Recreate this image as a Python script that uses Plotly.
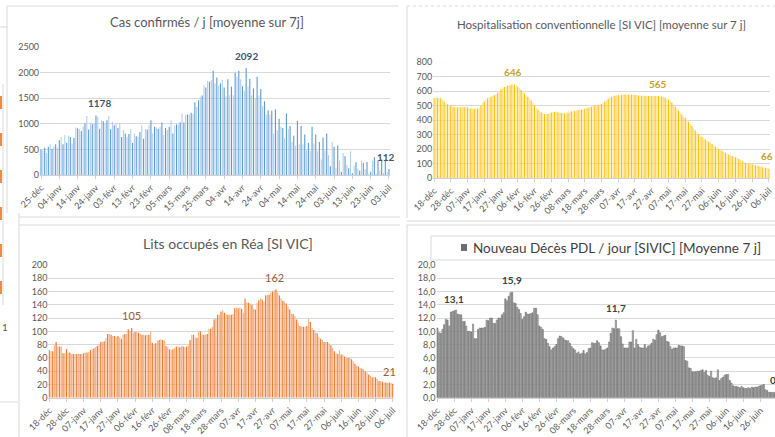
import plotly.graph_objects as go

W, H = 775, 437

# ---------------- DATA ----------------
cas_ticks = ["25-déc", "04-janv", "14-janv", "24-janv", "03-févr", "13-févr", "23-févr", "05-mars",
             "15-mars", "25-mars", "04-avr", "14-avr", "24-avr", "04-mai", "14-mai", "24-mai",
             "03-juin", "13-juin", "23-juin", "03-juil"]
cas_values = [
    500, 480, 530, 430, 550, 600, 515, 560, 600, 530,
    680, 740, 600, 780, 630, 770, 740, 615, 725, 930,
    915, 895, 860, 940, 1005, 1150, 890, 1025, 990, 1005,
    1160, 1135, 905, 1070, 1050, 1005, 1070, 1150, 895, 1040,
    970, 1005, 920, 1010, 740, 880, 810, 745, 800, 895,
    625, 810, 755, 745, 840, 965, 710, 900, 890, 970,
    1070, 810, 940, 930, 905, 940, 1025, 780, 920, 880,
    940, 1070, 810, 970, 990, 985, 1030, 1200, 1025, 1170,
    1180, 1180, 1215, 1200, 1420, 1330, 1460, 1530, 1555, 1755,
    1710, 1840, 1820, 1855, 2035, 1790, 1905, 1745, 1790, 1855,
    1710, 1540, 1870, 1560, 1725, 1560, 1995, 1920, 2035, 1870,
    1735, 1645, 2092, 1725, 1875, 1555, 1690, 1495, 1920, 1555,
    1680, 1345, 1440, 1175, 1265, 1175, 1255, 810, 1280, 875,
    1100, 940, 920, 720, 1200, 905, 955, 650, 765, 570,
    1060, 600, 955, 600, 790, 485, 625, 470, 940, 615,
    790, 470, 645, 305, 730, 475, 810, 385, 170, 645,
    550, 135, 575, 285, 60, 430, 365, 195, 130, 465,
    35, 175, 255, 125, 85, 280, 240, 115, 255, 25,
    65, 275, 350, 25, 285, 90, 310, 40, 300, 60,
    112]
cas_label_idx = [32, 112, 190]
cas_label_val = [1178, 2092, 112]
cas_label_txt = ["1178", "2092", "112"]

dec_ticks = ["18-déc", "28-déc", "07-janv", "17-janv", "27-janv", "06-févr", "16-févr", "26-févr",
             "08-mars", "18-mars", "28-mars", "07-avr", "17-avr", "27-avr", "07-mai", "17-mai",
             "27-mai", "06-juin", "16-juin", "26-juin", "06-juil"]

hosp_values = [
    552, 551, 552, 551, 550, 540, 528, 516, 508, 503,
    498, 493, 489, 488, 488, 489, 488, 488, 489, 488,
    486, 482, 479, 478, 477, 478, 480, 487, 500, 515,
    528, 540, 550, 556, 560, 566, 572, 580, 590, 600,
    612, 622, 628, 632, 636, 640, 643, 646, 644, 640,
    630, 620, 608, 596, 584, 571, 560, 550, 535, 519,
    502, 485, 472, 462, 453, 446, 442, 440, 442, 445,
    452, 455, 457, 457, 453, 450, 448, 446, 444, 445,
    450, 455, 458, 462, 464, 466, 468, 470, 472, 474,
    478, 482, 486, 489, 492, 496, 498, 500, 503, 506,
    510, 518, 528, 538, 546, 553, 560, 565, 568, 570,
    571, 572, 573, 575, 576, 576, 576, 575, 574, 573,
    572, 570, 569, 568, 568, 567, 567, 566, 566, 565,
    565, 565, 566, 566, 565, 564, 562, 560, 556, 550,
    542, 532, 520, 507, 493, 480, 466, 452, 438, 425,
    415, 402, 388, 372, 358, 342, 328, 315, 302, 292,
    282, 274, 266, 258, 250, 243, 235, 226, 218, 210,
    202, 194, 188, 181, 175, 168, 162, 157, 152, 148,
    143, 138, 131, 124, 117, 111, 106, 103, 100, 97,
    94, 91, 88, 85, 82, 79, 76, 73, 70, 68,
    66]
hosp_label_idx = [47, 134, 200]
hosp_label_val = [646, 565, 66]
hosp_label_txt = ["646", "565", "66"]

rea_values = [
    72, 70, 70, 79, 84, 77, 77, 77, 67, 67,
    73, 68, 68, 66, 66, 66, 66, 66, 66, 66,
    67, 68, 68, 69, 72, 73, 74, 76, 78, 80,
    84, 84, 85, 90, 96, 96, 95, 93, 93, 92,
    93, 91, 89, 95, 96, 96, 103, 100, 105, 98,
    99, 99, 98, 96, 95, 95, 94, 95, 95, 100,
    83, 80, 82, 86, 87, 88, 87, 86, 78, 76,
    73, 72, 73, 75, 77, 77, 76, 78, 77, 76,
    77, 79, 87, 95, 95, 91, 90, 99, 100, 95,
    95, 95, 96, 104, 104, 107, 118, 119, 125, 125,
    130, 132, 128, 126, 125, 125, 125, 126, 135, 136,
    135, 136, 134, 128, 149, 143, 143, 142, 140, 134,
    133, 143, 147, 150, 148, 145, 154, 155, 155, 158,
    160, 162, 163, 158, 154, 150, 146, 145, 142, 138,
    133, 127, 126, 123, 118, 113, 108, 107, 107, 107,
    108, 119, 114, 105, 102, 98, 97, 92, 89, 87,
    84, 84, 84, 82, 79, 75, 70, 67, 66, 71,
    65, 65, 62, 60, 60, 60, 58, 55, 51, 48,
    47, 45, 44, 43, 40, 38, 35, 33, 31, 31,
    31, 28, 25, 25, 24, 23, 23, 22, 23, 22,
    21]
rea_label_idx = [48, 131, 200]
rea_label_val = [105, 162, 21]
rea_label_txt = ["105", "162", "21"]

deces_values = [
    10.5, 9.8, 9.7, 10.3, 11.0, 11.8, 11.7, 10.8, 12.9, 13.0,
    13.1, 13.2, 12.6, 12.5, 12.5, 11.5, 11.5, 10.8, 10.0, 10.0,
    9.9, 11.1, 8.9, 8.9, 10.3, 10.5, 10.5, 10.5, 10.6, 11.7,
    11.6, 12.0, 12.0, 11.2, 11.2, 11.7, 12.0, 12.0, 12.5, 12.8,
    14.9, 14.6, 15.3, 15.8, 15.9, 14.3, 14.2, 13.6, 13.3, 12.7,
    11.8, 12.2, 12.9, 12.6, 12.6, 12.7, 12.8, 13.5, 13.5, 12.5,
    10.8, 10.6, 10.3, 8.9, 8.8, 8.2, 7.7, 7.2, 7.5, 7.7,
    8.0, 8.9, 9.3, 9.2, 9.0, 8.7, 8.6, 8.6, 8.2, 7.7,
    7.4, 7.2, 6.7, 6.9, 6.6, 6.7, 7.1, 6.6, 6.8, 7.4,
    7.5, 8.3, 8.2, 8.2, 8.6, 8.3, 7.8, 7.2, 7.2, 7.3,
    7.5, 8.4, 9.7, 10.5, 10.4, 11.7, 10.4, 10.4, 9.2, 8.1,
    7.5, 7.5, 7.5, 8.4, 8.4, 10.1, 7.5, 8.8, 8.0, 7.6,
    7.5, 7.5, 8.0, 7.5, 7.8, 7.9, 8.2, 8.8, 8.7, 9.5,
    10.2, 9.8, 9.2, 9.3, 9.4, 8.5, 8.4, 7.7, 7.3, 7.5,
    7.5, 7.5, 7.9, 7.8, 7.8, 7.7, 5.6, 5.5, 4.5, 4.4,
    3.9, 3.9, 3.9, 4.0, 4.0, 4.1, 4.2, 3.8, 4.1, 3.4,
    3.2, 4.0, 3.0, 2.9, 3.0, 4.2, 2.6, 2.9, 3.1, 3.4,
    3.5, 3.5, 2.6, 2.2, 1.8, 1.7, 1.7, 1.6, 1.5, 1.7,
    1.5, 1.4, 1.4, 1.5, 1.4, 1.6, 1.5, 1.6, 1.6, 1.7,
    1.8, 1.9, 2.0, 1.2, 1.1, 0.8, 0.8, 0.8, 0.8, 0.8,
    0.8]
deces_label_idx = [10, 44, 105, 200]
deces_label_val = [13.1, 15.9, 11.7, 0.8]
deces_label_txt = ["13,1", "15,9", "11,7", "0,8"]
deces_yticks = [0, 2, 4, 6, 8, 10, 12, 14, 16, 18, 20]
deces_yticktext = ["0,0", "2,0", "4,0", "6,0", "8,0", "10,0", "12,0", "14,0", "16,0", "18,0", "20,0"]

# ---------------- HELPERS ----------------
FONT = "Lato"
GRAY = "#595959"


def dx(a, b):
    return [a / W, b / W]


def dy(top, bot):
    return [1 - bot / H, 1 - top / H]


def alt(n, c1, c2):
    return [c1 if i % 2 == 0 else c2 for i in range(n)]


fig = go.Figure()

panels = [
    # values, dark, light, xaxis, yaxis, line color, bar width
    (cas_values, "#5B9BD5", "#B4D0EE", "x", "y", None, 0.6),
    (hosp_values, "#FFC000", "#FFE39A", "x2", "y2", None, 0.7),
    (rea_values, "#ED7D31", "#F6B58C", "x3", "y3", None, 0.72),
    (deces_values, "#9A9A9A", "#BDBDBD", "x4", "y4", "#5E5E5E", 0.72),
]
for vals, c1, c2, xa, ya, lc, wd in panels:
    fig.add_trace(go.Bar(
        x=list(range(len(vals))), y=vals, xaxis=xa, yaxis=ya, width=wd,
        marker=dict(color=alt(len(vals), c1, c2),
                    line=dict(width=0.5 if lc else 0, color=lc if lc else c1)),
        showlegend=False, hoverinfo="skip"))

tickfont = dict(family=FONT, size=9, color=GRAY)


def xaxis_cfg(domain, rng, ticks):
    return dict(domain=domain, range=rng, tickvals=[i * 10 for i in range(len(ticks))],
                ticktext=ticks, tickangle=-45, tickfont=tickfont, showgrid=False,
                showline=True, linecolor="#D0D0D0", linewidth=1, ticks="outside",
                ticklen=3, tickcolor="#D0D0D0", zeroline=False, fixedrange=True,
                automargin=False)


def yaxis_cfg(domain, rng, tickvals, ticktext=None):
    d = dict(domain=domain, range=rng, tickvals=tickvals, tickfont=tickfont,
             showgrid=True, gridcolor="#D9D9D9", gridwidth=1, zeroline=False,
             showline=False, ticks="", fixedrange=True, automargin=False)
    if ticktext:
        d["ticktext"] = ticktext
    return d


X4_MAX = 198.6
fig.update_layout(
    xaxis=xaxis_cfg(dx(40.1, 389.9), [-0.5, 190.5], cas_ticks) | dict(anchor="y"),
    yaxis=yaxis_cfg(dy(47, 175), [0, 2500], [0, 500, 1000, 1500, 2000, 2500]) | dict(anchor="x"),
    xaxis2=xaxis_cfg(dx(433.2, 769.8), [-0.5, 200.5], dec_ticks) | dict(anchor="y2"),
    yaxis2=yaxis_cfg(dy(62, 178), [0, 800], list(range(0, 801, 100))) | dict(anchor="x2"),
    xaxis3=xaxis_cfg(dx(48.4, 393.6), [-0.5, 200.5], dec_ticks) | dict(anchor="y3"),
    yaxis3=yaxis_cfg(dy(265, 397.7), [0, 200], list(range(0, 201, 20))) | dict(anchor="x3"),
    xaxis4=xaxis_cfg(dx(436.5, 775), [-0.5, X4_MAX], dec_ticks) | dict(anchor="y4"),
    yaxis4=yaxis_cfg(dy(265, 397.7), [0, 20], deces_yticks, deces_yticktext) | dict(anchor="x4"),
)

ann = []


def add_labels(idx, vals, txts, xref, yref, color, bold, size=10, xshifts=None,
               xmax=None, pxday=1.0):
    for k, (i, v, t) in enumerate(zip(idx, vals, txts)):
        xs = xshifts[k] if xshifts else 0
        xi = i
        if xmax is not None and i > xmax - 0.1:
            # keep the anchor inside the axis range, shift by the remaining pixels
            xi = xmax - 0.1
            xs += (i - xi) * pxday
        ann.append(dict(x=xi, y=v, xref=xref, yref=yref, text=f"<b>{t}</b>" if bold else t,
                        showarrow=False, yanchor="bottom", yshift=4, xshift=xs,
                        font=dict(family=FONT, size=size, color=color)))


add_labels(cas_label_idx, cas_label_val, cas_label_txt, "x", "y", "#44546A", True,
           xshifts=[0, 0, -3])
add_labels(hosp_label_idx, hosp_label_val, hosp_label_txt, "x2", "y2", "#C9A227", True,
           xshifts=[0, 0, -2])
add_labels(rea_label_idx, rea_label_val, rea_label_txt, "x3", "y3", "#9C5A34", False, size=11,
           xshifts=[0, 0, -3])
add_labels(deces_label_idx, deces_label_val, deces_label_txt, "x4", "y4", "#404040", True,
           xmax=X4_MAX, pxday=1.7)


# titles
def title(text, cx, cy, size, color=GRAY):
    ann.append(dict(x=cx / W, y=1 - cy / H, xref="paper", yref="paper", text=text,
                    showarrow=False, xanchor="center", yanchor="middle",
                    font=dict(family=FONT, size=size, color=color)))


title("Cas confirmés / j [moyenne sur 7j]", 207, 22, 13)
title("Hospitalisation conventionnelle [SI VIC] [moyenne sur 7 j]", 601, 24, 11.5)
title("Lits occupés en Réa [SI VIC]", 228, 243, 14)
ann.append(dict(x=471 / W, y=1 - 248 / H, xref="paper", yref="paper",
                text="Nouveau Décès PDL / jour [SIVIC] [Moyenne 7 j]", showarrow=False,
                xanchor="left", yanchor="middle",
                font=dict(family=FONT, size=13.5, color="#404040")))
ann.append(dict(x=0 / W, y=1 - 327 / H, xref="paper", yref="paper", text="1",
                showarrow=False, xanchor="left", yanchor="middle",
                font=dict(family=FONT, size=10, color=GRAY)))

shapes = []


def line(x0, y0, x1, y1, color="#D9D9D9", width=1, dash=None):
    shapes.append(dict(type="line", xref="paper", yref="paper", x0=x0 / W, y0=1 - y0 / H,
                       x1=x1 / W, y1=1 - y1 / H, line=dict(color=color, width=width, dash=dash),
                       layer="below"))


def rect(x0, y0, x1, y1, fill, color=None, width=0):
    shapes.append(dict(type="rect", xref="paper", yref="paper", x0=x0 / W, y0=1 - y0 / H,
                       x1=x1 / W, y1=1 - y1 / H, fillcolor=fill,
                       line=dict(color=color or fill, width=width), layer="below"))


# card borders
line(7, 6, 7, 213)           # chart 1 left
line(7, 6, 398, 6)           # chart 1 top
line(19, 217, 400, 217)      # chart 1 bottom
line(19, 213, 19, 437)       # chart 3 left
line(19, 225, 400, 225)      # chart 3 top
line(407, 6, 407, 218)       # chart 2 left
line(407, 6, 775, 6, dash="dot")
line(407, 221, 775, 221)     # chart 2 bottom
line(407, 225, 407, 437)     # chart 4 left
line(407, 225, 775, 225)     # chart 4 top
# stray elements from sheet behind
line(0, 27, 7, 27)
line(3, 84, 3, 305)
line(0, 402, 18, 402)
for yy in [96, 133, 170, 207, 244, 281]:
    rect(0, yy, 2, yy + 13, "#F28A3C")
# legend box chart 4
rect(431, 236, 776, 260, "white", "#D9D9D9", 1)
rect(461, 244, 467, 251, "#6E6E6E")

fig.update_layout(
    width=W, height=H, margin=dict(l=0, r=0, t=0, b=0, autoexpand=False),
    paper_bgcolor="white", plot_bgcolor="rgba(0,0,0,0)",
    annotations=ann, shapes=shapes, showlegend=False,
    font=dict(family=FONT, color=GRAY),
)

fig.write_html("out.html", config={"displayModeBar": False, "staticPlot": True},
               post_script="document.body.style.margin='0';document.body.style.overflow='hidden';")
